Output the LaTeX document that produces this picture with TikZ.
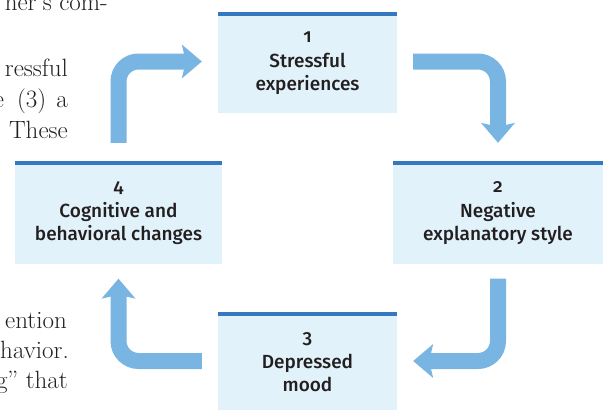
\documentclass[tikz,border=0pt]{standalone}
\usepackage{fontspec}
\setsansfont{Fira Sans}[UprightFont=* Medium,Numbers=OldStyle]
\usetikzlibrary{arrows.meta,positioning}
\definecolor{boxfill}{HTML}{E1F2FA}
\definecolor{boxbar}{HTML}{3479BF}
\definecolor{flowblue}{HTML}{78B5E3}
\definecolor{ink}{HTML}{231F20}

\begin{document}
\begin{tikzpicture}[x=1pt,y=-1pt]
  \tikzstyle{stage}=[rectangle,fill=boxfill,inner sep=0pt,align=center,text=ink,
    font=\sffamily\fontsize{19}{23}\selectfont]
  \tikzstyle{flow}=[color=flowblue,line width=16pt,rounded corners=20pt,
    -{Stealth[length=20pt,width=34pt,inset=4pt,line width=0pt]}]
  \tikzstyle{page}=[anchor=base east,inner sep=0pt,text=ink,font=\fontsize{25}{31}\selectfont]
  \clip (0,0) rectangle (603,410);
  % running text of the page beside the figure
  \node[page] (p1) at (108,10) {her's com-};
  \node[page] (p2) at (68,76) {ressful};
  \node[page] (p3) at (68,107) {e\hspace{13pt}(3)\hspace{10pt}a};
  \node[page] (p4) at (68,138) {These};
  \node[page] (p5) at (67,328) {ention};
  \node[page] (p6) at (69,358) {havior.};
  \node[page] (p7) at (68,388) {g'' that};
  % the four stages
  \node[stage,minimum width=179pt,minimum height=99pt] (s1) at (307.5,63)
    {1\\[2pt]Stressful\\experiences};
  \node[stage,minimum width=210pt,minimum height=101pt] (s2) at (498,213)
    {2\\[2pt]Negative\\explanatory style};
  \node[stage,minimum width=179pt,minimum height=98pt] (s3) at (307.5,362.5)
    {3\\[2pt]Depressed\\mood};
  \node[stage,minimum width=207pt,minimum height=101pt] (s4) at (118.5,213)
    {4\\[2pt]Cognitive and\\behavioral changes};
  \foreach \s in {s1,s2,s3,s4}
    \fill[boxbar] ([yshift=1.5pt]\s.north west) rectangle ([yshift=-2.5pt]\s.north east);
  % the cycle
  \draw[flow] ([xshift=16pt,yshift=1.5pt]s1.east) -| ([yshift=19.5pt]s2.north);
  \draw[flow] ([yshift=-15pt]s2.south) |- ([xshift=16pt,yshift=1.5pt]s3.east);
  \draw[flow] ([xshift=-16pt,yshift=1.5pt]s3.west) -| ([yshift=-15pt]s4.south);
  \draw[flow] ([yshift=19.5pt]s4.north) |- ([xshift=-16pt,yshift=1.5pt]s1.west);
\end{tikzpicture}
\end{document}
